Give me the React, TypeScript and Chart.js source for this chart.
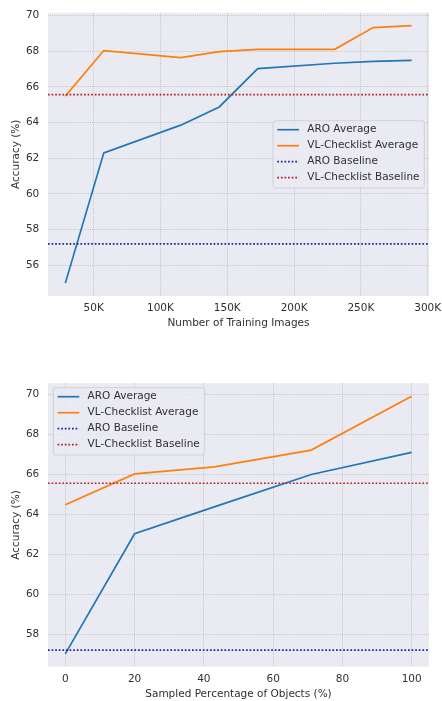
import React, { useEffect, useRef } from "react";
import { Chart, registerables } from "chart.js";

Chart.register(...registerables);

// ---- data ----
const trainImagesK = [28.8, 57.6, 115.2, 144, 172.8, 230.4, 259.2, 288];
const aroByImages = [55.0, 62.3, 63.85, 64.87, 67.02, 67.32, 67.42, 67.48];
const vlByImages = [65.48, 68.03, 67.64, 67.97, 68.1, 68.1, 69.32, 69.43];

const objectPct = [0, 20, 43, 71, 100];
const aroByObjects = [57.02, 63.03, 64.38, 66.0, 67.11];
const vlByObjects = [64.48, 66.03, 66.38, 67.22, 69.92];

const aroBaseline = 57.2;
const vlBaseline = 65.56;

const xTicksImages = [50, 100, 150, 200, 250, 300];
const yTicksImages = [56, 58, 60, 62, 64, 66, 68, 70];
const xTicksObjects = [0, 20, 40, 60, 80, 100];
const yTicksObjects = [58, 60, 62, 64, 66, 68, 70];

const seriesLabels = ["ARO Average", "VL-Checklist Average", "ARO Baseline", "VL-Checklist Baseline"];

// ---- styles ----
const FONT = "'DejaVu Sans', sans-serif";
const FS = 10.5;
const TEXT = "#303030";
const C_ARO = "#1f77b4";
const C_VL = "#ff7f0e";
const C_ARO_BASE = "#22229a";
const C_VL_BASE = "#b22222";
const GRID = "rgba(150,150,150,0.7)";

Chart.defaults.font.family = FONT;
Chart.defaults.font.size = FS;
Chart.defaults.color = TEXT;

function paddedRange(values: number[]): [number, number] {
  const lo = Math.min(...values);
  const hi = Math.max(...values);
  const m = (hi - lo) * 0.05;
  return [lo - m, hi + m];
}

const plotBg = {
  id: "plotBg",
  beforeDraw(chart: any) {
    const { ctx, chartArea: a } = chart;
    ctx.save();
    ctx.fillStyle = "#eaeaf2";
    ctx.fillRect(a.left, a.top, a.right - a.left, a.bottom - a.top);
    ctx.restore();
  },
};

const boxLegend = {
  id: "boxLegend",
  afterDatasetsDraw(chart: any, _args: any, opts: any) {
    const { ctx, chartArea: a } = chart;
    ctx.save();
    ctx.font = `${FS}px ${FONT}`;
    const items = chart.data.datasets.map((d: any) => ({
      label: d.label,
      color: d.borderColor,
      dash: d.borderDash || [],
      width: d.borderWidth,
    }));
    const textW = Math.max(...items.map((i: any) => ctx.measureText(i.label).width));
    const padX = 4.3, handle = 21.7, gap = 8.3, rowH = 16, padTop = 9, padBottom = 10.3;
    const w = padX + handle + gap + textW + 4.8;
    const h = padTop + rowH * (items.length - 1) + padBottom;
    let x0: number, y0: number;
    if (opts.loc === "center right") {
      x0 = a.right - 4.7 - w;
      y0 = (a.top + a.bottom) / 2 - h / 2;
    } else {
      x0 = a.left + 5.3;
      y0 = a.top + 4.4;
    }
    ctx.beginPath();
    if (ctx.roundRect) ctx.roundRect(x0, y0, w, h, 2.5);
    else ctx.rect(x0, y0, w, h);
    ctx.fillStyle = "rgba(234,234,242,0.8)";
    ctx.fill();
    ctx.strokeStyle = "#cccccc";
    ctx.lineWidth = 0.8;
    ctx.stroke();
    items.forEach((it: any, i: number) => {
      const cy = y0 + padTop + i * rowH;
      ctx.beginPath();
      ctx.setLineDash(it.dash);
      ctx.strokeStyle = it.color;
      ctx.lineWidth = it.width;
      ctx.moveTo(x0 + padX, cy);
      ctx.lineTo(x0 + padX + handle, cy);
      ctx.stroke();
      ctx.setLineDash([]);
      ctx.fillStyle = TEXT;
      ctx.textBaseline = "middle";
      ctx.textAlign = "left";
      ctx.fillText(it.label, x0 + padX + handle + gap, cy);
    });
    ctx.restore();
  },
};

type Spec = {
  xs: number[];
  aro: number[];
  vl: number[];
  xTicks: number[];
  yTicks: number[];
  xFmt: (v: number) => string;
  xTitle: string;
  height: number;
  padTop: number;
  xAxisH: number;
  xTitlePad: number;
  legendLoc: string;
};

function makeConfig(s: Spec): any {
  const xr = paddedRange(s.xs);
  const yr = paddedRange([...s.aro, ...s.vl, aroBaseline, vlBaseline]);
  const pts = (ys: number[]) => s.xs.map((x, i) => ({ x, y: ys[i] }));
  const flat = (y: number) => [{ x: xr[0], y }, { x: xr[1], y }];
  const dotted = [1.7, 1.9];
  return {
    type: "line",
    data: {
      datasets: [
        { label: seriesLabels[0], data: pts(s.aro), borderColor: C_ARO, borderWidth: 1.7, pointRadius: 0, order: 4 },
        { label: seriesLabels[1], data: pts(s.vl), borderColor: C_VL, borderWidth: 1.7, pointRadius: 0, order: 3 },
        { label: seriesLabels[2], data: flat(aroBaseline), borderColor: C_ARO_BASE, borderWidth: 1.7, borderDash: dotted, pointRadius: 0, order: 2 },
        { label: seriesLabels[3], data: flat(vlBaseline), borderColor: C_VL_BASE, borderWidth: 1.7, borderDash: dotted, pointRadius: 0, order: 1 },
      ],
    },
    options: {
      animation: false,
      responsive: false,
      devicePixelRatio: 1,
      events: [],
      layout: { padding: { top: s.padTop, right: 13, left: 0, bottom: 0 }, autoPadding: false },
      plugins: {
        legend: { display: false },
        tooltip: { enabled: false },
        boxLegend: { loc: s.legendLoc },
      },
      scales: {
        x: {
          type: "linear",
          min: xr[0],
          max: xr[1],
          afterBuildTicks: (sc: any) => {
            sc.ticks = s.xTicks.map((v) => ({ value: v }));
          },
          afterFit: (sc: any) => {
            sc.height = s.xAxisH;
            sc.paddingLeft = 0;
            sc.paddingRight = 0;
          },
          ticks: { color: TEXT, padding: 6, maxRotation: 0, autoSkip: false, callback: (v: number) => s.xFmt(v), font: { size: FS } },
          grid: { color: GRID, lineWidth: 0.8, drawTicks: false },
          border: { display: false, dash: [0.8, 1.3] },
          title: { display: true, text: s.xTitle, color: TEXT, font: { size: FS }, padding: { top: 0, bottom: s.xTitlePad } },
        },
        y: {
          type: "linear",
          min: yr[0],
          max: yr[1],
          afterBuildTicks: (sc: any) => {
            sc.ticks = s.yTicks.map((v) => ({ value: v }));
          },
          afterFit: (sc: any) => {
            sc.width = 48;
            sc.paddingTop = 0;
            sc.paddingBottom = 0;
          },
          ticks: { color: TEXT, padding: 8.7, callback: (v: number) => String(v), font: { size: FS } },
          grid: { color: GRID, lineWidth: 0.8, drawTicks: false },
          border: { display: false, dash: [0.8, 1.3] },
          title: { display: true, text: "Accuracy (%)", color: TEXT, font: { size: FS }, padding: { top: 10.4, bottom: 0 } },
        },
      },
    },
    plugins: [plotBg, boxLegend],
  };
}

function LineChart({ spec, top }: { spec: Spec; top: number }) {
  const ref = useRef<HTMLCanvasElement>(null);
  useEffect(() => {
    if (!ref.current) return;
    const chart = new Chart(ref.current, makeConfig(spec));
    return () => chart.destroy();
  }, []);
  return (
    <canvas
      ref={ref}
      width={442}
      height={spec.height}
      style={{ position: "absolute", left: 0, top, width: 442, height: spec.height, display: "block" }}
    />
  );
}

const topSpec: Spec = {
  xs: trainImagesK,
  aro: aroByImages,
  vl: vlByImages,
  xTicks: xTicksImages,
  yTicks: yTicksImages,
  xFmt: (v) => `${v}K`,
  xTitle: "Number of Training Images",
  height: 340,
  padTop: 12.7,
  xAxisH: 44,
  xTitlePad: 10.7,
  legendLoc: "center right",
};

const bottomSpec: Spec = {
  xs: objectPct,
  aro: aroByObjects,
  vl: vlByObjects,
  xTicks: xTicksObjects,
  yTicks: yTicksObjects,
  xFmt: (v) => String(v),
  xTitle: "Sampled Percentage of Objects (%)",
  height: 351,
  padTop: 33.3,
  xAxisH: 34.3,
  xTitlePad: 0.4,
  legendLoc: "upper left",
};

export default function App() {
  return (
    <div style={{ position: "absolute", left: 0, top: 0, width: 442, height: 701, background: "#ffffff", overflow: "hidden" }}>
      <LineChart spec={topSpec} top={0} />
      <LineChart spec={bottomSpec} top={350} />
    </div>
  );
}
